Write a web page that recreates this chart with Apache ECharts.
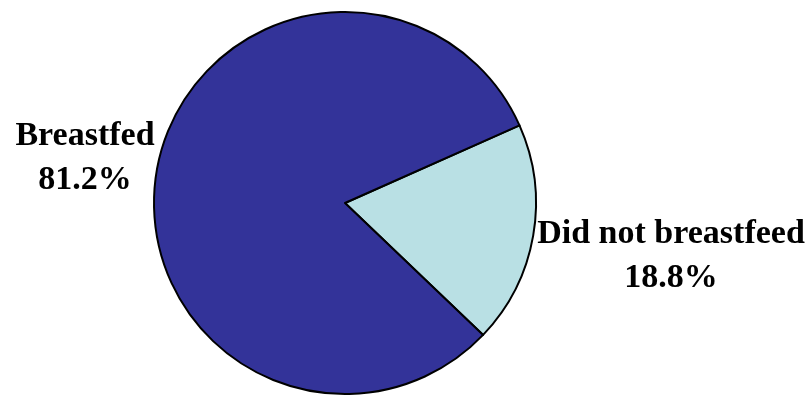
<!DOCTYPE html>
<html>
<head>
<meta charset="utf-8">
<style>
  html, body { margin: 0; padding: 0; background: #fff; }
  #chart { width: 806px; height: 401px; }
</style>
<script src="https://cdn.jsdelivr.net/npm/echarts@6/dist/echarts.min.js"></script>
</head>
<body>
<div id="chart"></div>
<script>
var categories = ['Did not breastfeed', 'Breastfed']
var values = [18.8, 81.2]
var colors = ['#b9e0e4', '#333399']
// label centres (x, y) in px
var labelSpots = [[671, 256], [85, 158]]

var myChart = echarts.init(document.getElementById('chart'))

var option = {
  animation: false,
  series: [
    {
      type: 'pie',
      center: [345, 203],
      radius: 191,
      startAngle: 24,
      clockwise: true,
      itemStyle: {
        borderColor: '#000',
        borderWidth: 2
      },
      label: {
        show: true,
        position: 'outside',
        formatter: function (p) {
          return p.name + '\n' + p.value.toFixed(1) + '%'
        },
        fontFamily: '"Liberation Serif", "Times New Roman", serif',
        fontWeight: 'bold',
        fontSize: 34,
        lineHeight: 44,
        letterSpacing: -0.5,
        color: '#000',
        align: 'center',
        width: 300,
        overflow: 'none'
      },
      labelLine: { show: false },
      labelLayout: function (params) {
        var spot = labelSpots[params.dataIndex]
        return { x: spot[0], y: spot[1], align: 'center', verticalAlign: 'middle' }
      },
      data: categories.map(function (name, i) {
        return { name: name, value: values[i], itemStyle: { color: colors[i] } }
      })
    }
  ]
}
myChart.setOption(option)
</script>
</body>
</html>
